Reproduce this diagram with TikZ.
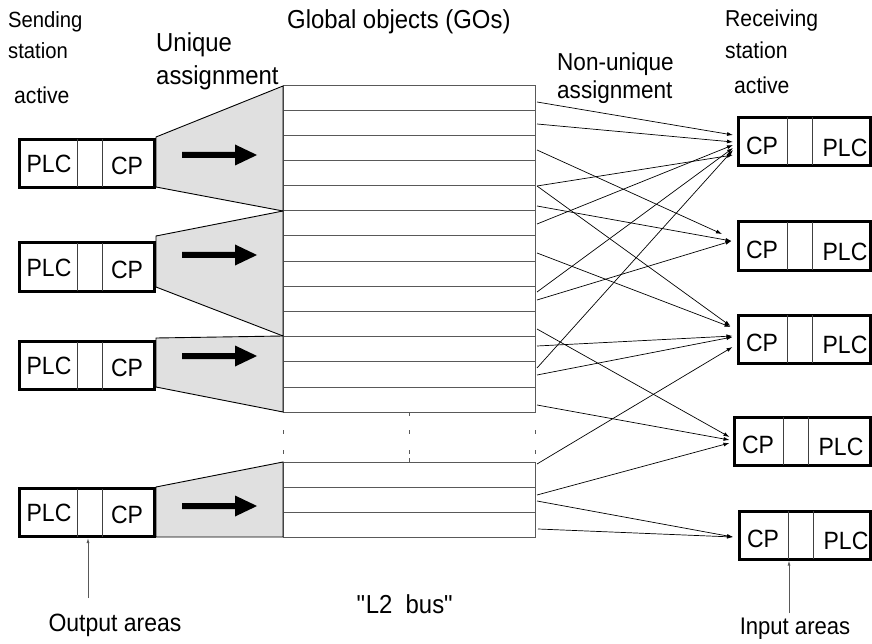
\documentclass[tikz,border=0pt]{standalone}
\usepackage{fontspec}
\setmainfont{Liberation Sans}[FakeStretch=0.92]
\usetikzlibrary{arrows.meta,calc}

% straight double quote, set as a glyph so no ligature mapping touches it
\newcommand\straightquote{\XeTeXglyph\XeTeXcharglyph"22\relax}

\begin{document}
\begin{tikzpicture}[x=1pt,y=-1pt,
  lbl/.style={font=\fontsize{#1}{#1}\selectfont, anchor=base west, inner sep=0pt},
  lbl/.default=24,
  boxtxt/.style={font=\fontsize{25}{25}\selectfont, inner sep=0pt},
  station/.style={draw=black, line width=3pt, fill=white, rectangle, inner sep=0pt,
                  minimum width=#1, minimum height=48pt},
  divider/.style={draw=black!75, line width=0.8pt},
  funnel/.style={draw=black, line width=0.9pt, fill=black!12, line join=miter},
  gridline/.style={draw=black!65, line width=1pt},
  bigarrow/.style={fill=black},
  link/.style={draw=black, line width=0.7pt, -{Latex[length=6pt,width=4pt]}},
  pointer/.style={draw=black!65, line width=0.8pt, -{Latex[length=5pt,width=3pt]}},
  gap/.style={draw=black!65, line width=1pt}
]
\useasboundingbox (0,0) rectangle (872,644);

% ---------------- global objects table ----------------
\draw[gridline] (283,86) rectangle (535,412);
\foreach \y in {111,136,161,186,211,236,261,286,311,336,361,387}
  \draw[gridline] (283,\y) -- (535,\y);
\draw[gridline] (283,462) rectangle (535,537);
\foreach \y in {487,512}
  \draw[gridline] (283,\y) -- (535,\y);
% broken continuation between the two parts
\foreach \x in {283,409,535} {
  \draw[gap] (\x,430) -- (\x,434);
  \draw[gap] (\x,450) -- (\x,454);
}
\draw[gap] (409,412) -- (409,416);
\draw[gap] (409,458) -- (409,462);

% ---------------- unique assignment funnels ----------------
\draw[funnel] (156,137) -- (283,86) -- (283,211) -- (156,187) -- cycle;
\draw[funnel] (156,236) -- (283,211) -- (283,336) -- (156,287) -- cycle;
\draw[funnel] (156,338) -- (283,336) -- (283,412) -- (156,387) -- cycle;
\draw[funnel] (156,487) -- (283,462) -- (283,537) -- (156,537) -- cycle;

\foreach \y in {155,255,356,506}
  \fill[bigarrow] (182,\y-3) -- (235,\y-3) -- (235,\y-10.5) -- (257,\y) --
                  (235,\y+10.5) -- (235,\y+3) -- (182,\y+3) -- cycle;

% ---------------- sending stations ----------------
\foreach \n/\yc in {s1/163.5, s2/267, s3/365.5, s4/512.5} {
  \node[station=135pt] (\n) at (87,\yc) {};
  \draw[divider] ($(\n.north west)+(59.5,1.5)$) -- ($(\n.south west)+(59.5,-1.5)$);
  \draw[divider] ($(\n.north west)+(84.5,1.5)$) -- ($(\n.south west)+(84.5,-1.5)$);
  \node[boxtxt] at ($(\n.west)+(31,0.5)$) {PLC};
  \node[boxtxt] at ($(\n.west)+(109,2.5)$) {CP};
}

% ---------------- receiving stations ----------------
\foreach \n/\xl/\yc in {r1/736.5/141.5, r2/736.5/246, r3/736.5/339, r4/732.5/441, r5/737.5/535} {
  \node[station=868.5pt-\xl pt, anchor=west] (\n) at (\xl,\yc) {};
  \draw[divider] ($(\n.north west)+(50.5,1.5)$) -- ($(\n.south west)+(50.5,-1.5)$);
  \draw[divider] ($(\n.north west)+(75.5,1.5)$) -- ($(\n.south west)+(75.5,-1.5)$);
  \node[boxtxt] at ($(\n.west)+(25.5,4)$) {CP};
  \node[boxtxt] at ($(\n.west)+(108.5,6)$) {PLC};
}

% ---------------- non-unique assignment ----------------
\coordinate (g1)  at (537,102);
\coordinate (g2)  at (537,124);
\coordinate (g3)  at (537,150);
\coordinate (g4)  at (537,186);
\coordinate (g5)  at (537,206);
\coordinate (g6)  at (537,224);
\coordinate (g7)  at (537,253);
\coordinate (g8)  at (537,292);
\coordinate (g9)  at (537,300);
\coordinate (g10) at (537,329);
\coordinate (g11) at (537,346);
\coordinate (g12) at (537,368);
\coordinate (g13) at (537,375);
\coordinate (g14) at (537,405);
\coordinate (g15) at (537,464);
\coordinate (g16) at (537,495);
\coordinate (g17) at (537,501);
\coordinate (g18) at (538,529);

\draw[link] (g1)  -- ($(r1.west)+(-3.5,-6.5)$);
\draw[link] (g2)  -- ($(r1.west)+(-3.5,0.5)$);
\draw[link] (g6)  -- ($(r1.west)+(-3.5,3.5)$);
\draw[link] (g8)  -- ($(r1.west)+(-3.5,6.5)$);
\draw[link] (g12) -- ($(r1.west)+(-3.5,8.5)$);
\draw[link] (g4)  -- ($(r1.west)+(-3.5,13.5)$);

\draw[link] (g3)  -- ($(r2.west)+(-14.5,-12)$);
\draw[link] (g5)  -- ($(r2.west)+(-5,-5)$);
\draw[link] (g9)  -- ($(r2.west)+(-5,-5)$);

\draw[link] (g4)  -- ($(r3.west)+(-6,-13)$);
\draw[link] (g7)  -- ($(r3.west)+(-6,-12)$);
\draw[link] (g11) -- ($(r3.west)+(-4,-3)$);
\draw[link] (g13) -- ($(r3.west)+(-4,-2)$);
\draw[link] (g15) -- ($(r3.west)+(-4,8)$);

\draw[link] (g10) -- ($(r4.west)+(-3,-4)$);
\draw[link] (g14) -- ($(r4.west)+(-3,-1)$);
\draw[link] (g16) -- ($(r4.west)+(-3,2)$);

\draw[link] (g17) -- ($(r5.west)+(-4.5,2)$);
\draw[link] (g18) -- ($(r5.west)+(-4.5,2)$);

% ---------------- headings ----------------
\node[lbl=22]   (hsend1) at (8,28)   {Sending};
\node[lbl=22]   (hsend2) at (8,59)   {station};
\node[lbl=23]   (hsend3) at (14,104) {active};
\node[lbl=26]   (huniq1) at (156,52) {Unique};
\node[lbl=26]   (huniq2) at (156,85) {assignment};
\node[lbl=26]   (hgos)   at (287,29) {Global objects (GOs)};
\node[lbl=24.5] (hnon1)  at (557,71) {Non-unique};
\node[lbl=24.5] (hnon2)  at (557,99) {assignment};
\node[lbl=23]   (hrec1)  at (725,27) {Receiving};
\node[lbl=23]   (hrec2)  at (725,59) {station};
\node[lbl=23]   (hrec3)  at (734,94) {active};

% ---------------- bottom labels ----------------
\node[lbl=25, anchor=base] (outlbl) at (115,631) {Output areas};
\node[lbl=26, anchor=base] (buslbl) at (405,613) {\straightquote L2\ \ bus\straightquote};
\node[lbl=24, anchor=base] (inlbl)  at (795,634) {Input areas};

\coordinate (outtail) at (88,598);
\coordinate (intail)  at (789,613);
\draw[pointer] (outtail) -- (outtail |- s4.south);
\draw[pointer] (intail)  -- (intail |- r5.south);
\end{tikzpicture}
\end{document}
